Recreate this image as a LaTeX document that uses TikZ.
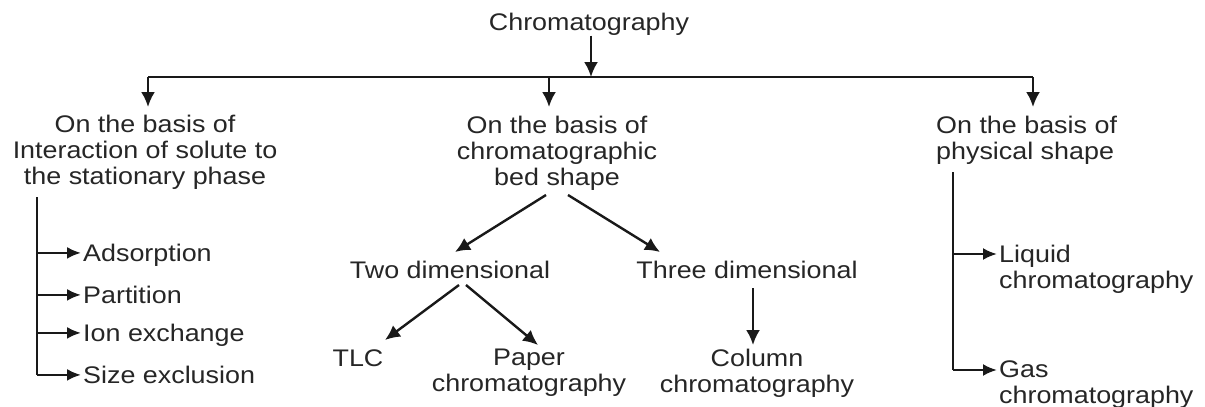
\documentclass[tikz,border=0pt]{standalone}
\usepackage{fontspec}
\setmainfont{Liberation Sans}[FakeStretch=1.12]
\usetikzlibrary{arrows.meta}
\begin{document}
\begin{tikzpicture}[x=1pt,y=-1pt,
  txt/.style={inner sep=0pt, text=black!85, font=\fontsize{24}{26}\selectfont},
  ml/.style={txt, anchor=north, align=center},
  lst/.style={txt, anchor=base west, text height=17.2pt, text depth=0pt},
  ln/.style={line width=2.4pt, draw=black!90},
  arr/.style={ln, -{Latex[length=15pt,width=14pt]}},
  arrs/.style={ln, -{Latex[length=14pt,width=12pt]}, shorten >=2pt}]
\useasboundingbox[fill=white] (0,0) rectangle (1205,407);

% nodes
\node[txt, anchor=base] (chrom) at (589,30.5) {Chromatography};
\node[ml] (basisA) at (145,114.5) {On the basis of\\Interaction of solute to\\the stationary phase};
\node[ml] (basisB) at (557,115.5) {On the basis of\\chromatographic\\bed shape};
\node[ml, anchor=north west, align=left] (basisC) at (936,115.5) {On the basis of\\physical shape};

\node[lst] (ads) at (83,261.5) {Adsorption};
\node[lst] (par) at (83,303.5) {Partition};
\node[lst] (ion) at (83,341.5) {Ion exchange};
\node[lst] (siz) at (83,383.5) {Size exclusion};

\node[txt, anchor=base] (two) at (450,278.5) {Two dimensional};
\node[txt, anchor=base] (three) at (747,278.5) {Three dimensional};
\node[txt, anchor=base] (tlc) at (358,366.5) {TLC};
\node[ml] (paper) at (529,349) {Paper\\chromatography};
\node[ml] (column) at (757,349) {Column\\chromatography};
\node[ml, anchor=north west, align=left] (liq) at (999,245) {Liquid\\chromatography};
\node[ml, anchor=north west, align=left] (gas) at (999,361) {Gas\\chromatography};

% coordinates
\coordinate (bus) at (591,77);
\coordinate (busL) at (148,77);
\coordinate (busM) at (549,77);
\coordinate (busR) at (1033,77);
\coordinate (dropL) at (148,107);
\coordinate (dropM) at (549,107);
\coordinate (dropR) at (1033,107);
\coordinate (lvTop) at (37,197);
\coordinate (rvTop) at (953,172);
\coordinate (liqP) at (953,254);
\coordinate (gasP) at (953,370);
\coordinate (bedL) at (546,195);
\coordinate (bedR) at (568,195);
\coordinate (twoTip) at (455,252);
\coordinate (threeTip) at (660,252);
\coordinate (twoL) at (459,285);
\coordinate (twoR) at (466,285);
\coordinate (tlcTip) at (385,340);
\coordinate (paperTip) at (538,345);
\coordinate (threeS) at (753,288);
\coordinate (colTip) at (753,345);

% connectors
\draw[arr] (chrom.south -| bus) -- (bus);
\draw[ln] (busL) -- (busR);
\draw[arr] (busL) -- (dropL);
\draw[arr] (busM) -- (dropM);
\draw[arr] (busR) -- (dropR);

\draw[ln] (lvTop) -- (lvTop |- siz.west);
\draw[arrs] (lvTop |- ads.west) -- (ads.west);
\draw[arrs] (lvTop |- par.west) -- (par.west);
\draw[arrs] (lvTop |- ion.west) -- (ion.west);
\draw[arrs] (lvTop |- siz.west) -- (siz.west);

\draw[arr] (bedL) -- (twoTip);
\draw[arr] (bedR) -- (threeTip);
\draw[arr] (twoL) -- (tlcTip);
\draw[arr] (twoR) -- (paperTip);
\draw[arr] (threeS) -- (colTip);

\draw[ln] (rvTop) -- (gasP);
\draw[arrs] (liqP) -- (liqP -| liq.west);
\draw[arrs] (gasP) -- (gasP -| gas.west);
\end{tikzpicture}
\end{document}
